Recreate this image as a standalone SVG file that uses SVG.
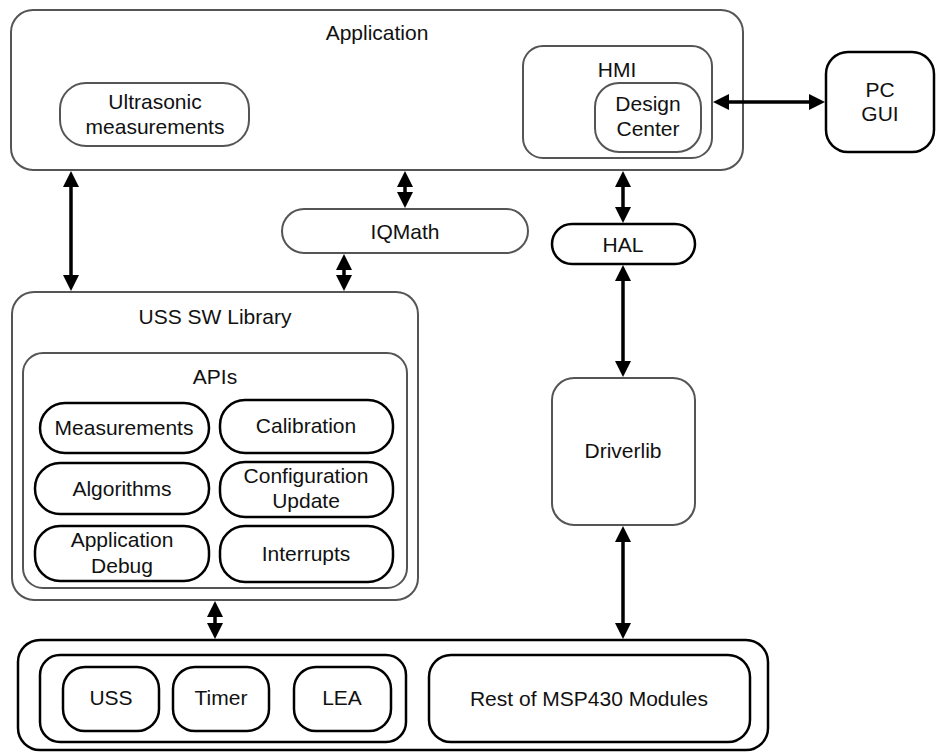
<svg xmlns="http://www.w3.org/2000/svg" width="936" height="753" viewBox="0 0 936 753">
<defs>
<style>
text{font-family:"Liberation Sans",Arial,Helvetica,sans-serif;font-size:21px;fill:#111;text-anchor:middle}
.g{fill:#fff;stroke:#555;stroke-width:2}
.b{fill:#fff;stroke:#000;stroke-width:2.5}
.c{stroke:#000;stroke-width:3.5;fill:none;marker-start:url(#ah);marker-end:url(#ah)}
</style>
<marker id="ah" markerUnits="userSpaceOnUse" markerWidth="16" markerHeight="16" refX="8" refY="8" orient="auto-start-reverse" viewBox="0 0 16 16">
<path d="M0,0 L16,8 L0,16 z" fill="#000"/>
</marker>
</defs>
<rect width="936" height="753" fill="#fff"/>

<g id="application">
<rect class="g" x="11" y="10" width="732" height="160" rx="22"/>
<text x="377" y="40">Application</text>
</g>
<g id="ultrasonic">
<rect class="g" x="60" y="83" width="189" height="63" rx="26"/>
<text x="155" y="109">Ultrasonic</text>
<text x="155" y="134">measurements</text>
</g>
<g id="hmi">
<rect class="g" x="523" y="46" width="189" height="112" rx="20"/>
<text x="617" y="77">HMI</text>
</g>
<g id="design-center">
<rect class="g" x="595" y="83" width="106" height="69" rx="24"/>
<text x="648" y="111">Design</text>
<text x="648" y="136">Center</text>
</g>
<g id="pc-gui">
<rect class="b" x="826" y="52" width="108" height="100" rx="22"/>
<text x="880" y="97">PC</text>
<text x="880" y="121">GUI</text>
</g>
<g id="iqmath">
<rect class="g" x="282" y="209" width="246" height="44" rx="22"/>
<text x="405" y="239">IQMath</text>
</g>
<g id="hal">
<rect class="b" x="552" y="224" width="143" height="40" rx="20"/>
<text x="623" y="252">HAL</text>
</g>
<g id="driverlib">
<rect class="g" x="552" y="378" width="143" height="147" rx="22"/>
<text x="623" y="458">Driverlib</text>
</g>
<g id="uss-sw-library">
<rect class="g" x="12" y="292" width="406" height="308" rx="22"/>
<text x="215" y="324">USS SW Library</text>
</g>
<g id="apis">
<rect class="g" x="23" y="353" width="384" height="235" rx="20"/>
<text x="215" y="384">APIs</text>
</g>
<g id="measurements">
<rect class="b" x="40" y="403" width="169" height="50" rx="25"/>
<text x="124" y="435">Measurements</text>
</g>
<g id="calibration">
<rect class="b" x="220" y="400" width="173" height="53" rx="25"/>
<text x="306" y="433">Calibration</text>
</g>
<g id="algorithms">
<rect class="b" x="35" y="463" width="174" height="51" rx="25"/>
<text x="122" y="496">Algorithms</text>
</g>
<g id="configuration-update">
<rect class="b" x="220" y="462" width="173" height="55" rx="25"/>
<text x="306" y="483">Configuration</text>
<text x="306" y="508">Update</text>
</g>
<g id="application-debug">
<rect class="b" x="35" y="526" width="174" height="55" rx="25"/>
<text x="122" y="547">Application</text>
<text x="122" y="573">Debug</text>
</g>
<g id="interrupts">
<rect class="b" x="220" y="526" width="173" height="56" rx="25"/>
<text x="306" y="561">Interrupts</text>
</g>
<g id="hardware">
<rect class="b" x="18" y="640" width="750" height="110" rx="22"/>
</g>
<g id="uss-group">
<rect class="b" x="40" y="655" width="366" height="87" rx="20"/>
</g>
<g id="uss">
<rect class="b" x="63" y="667" width="96" height="64" rx="22"/>
<text x="111" y="705">USS</text>
</g>
<g id="timer">
<rect class="b" x="173" y="667" width="96" height="64" rx="22"/>
<text x="221" y="705">Timer</text>
</g>
<g id="lea">
<rect class="b" x="294" y="667" width="97" height="64" rx="22"/>
<text x="342" y="705">LEA</text>
</g>
<g id="rest-msp430">
<rect class="b" x="429" y="655" width="321" height="87" rx="22"/>
<text x="589" y="706">Rest of MSP430 Modules</text>
</g>

<g id="connectors">
<line class="c" x1="71" y1="179" x2="71" y2="283"/>
<line class="c" x1="405" y1="179" x2="405" y2="200"/>
<line class="c" x1="344" y1="262" x2="344" y2="283"/>
<line class="c" x1="623" y1="179" x2="623" y2="215"/>
<line class="c" x1="623" y1="273" x2="623" y2="369"/>
<line class="c" x1="623" y1="534" x2="623" y2="631"/>
<line class="c" x1="215" y1="609" x2="215" y2="631"/>
<line class="c" x1="721" y1="102" x2="817" y2="102"/>
</g>
</svg>
